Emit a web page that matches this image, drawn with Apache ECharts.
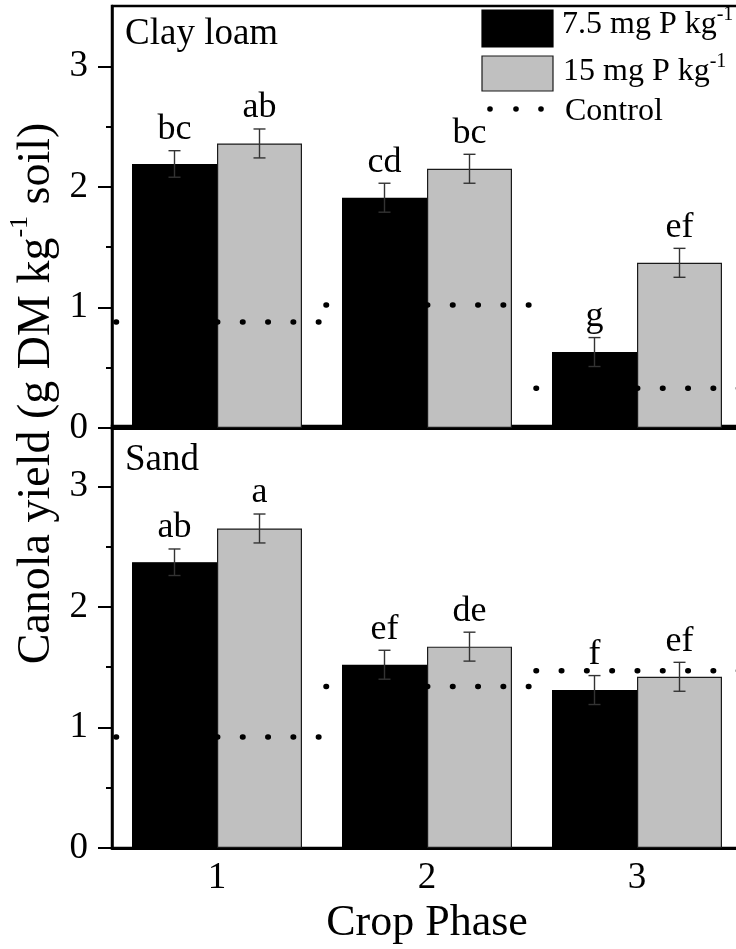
<!DOCTYPE html>
<html>
<head>
<meta charset="utf-8">
<script src="https://cdn.jsdelivr.net/npm/echarts@6/dist/echarts.min.js"></script>
<style>
  html, body { margin: 0; padding: 0; background: #fff; overflow: hidden; }
  /* the plotting frame runs a little past the right edge of the page */
  #chart { width: 760px; height: 949px; }
</style>
</head>
<body>
<div id="chart"></div>
<script>
// Crop phases on the shared x axis
const categories = ['1', '2', '3'];

// Clay loam: canola yield (g DM per kg soil)
const clay75 = [2.19, 1.91, 0.63];
const clay15 = [2.36, 2.15, 1.37];
const clayErr75 = [0.11, 0.12, 0.12];
const clayErr15 = [0.12, 0.12, 0.12];
const clayLetters75 = ['bc', 'cd', 'g'];
const clayLetters15 = ['ab', 'bc', 'ef'];
const clayControl = [0.88, 1.02, 0.33];

// Sand
const sand75 = [2.37, 1.52, 1.31];
const sand15 = [2.65, 1.67, 1.42];
const sandErr75 = [0.11, 0.12, 0.12];
const sandErr15 = [0.12, 0.12, 0.12];
const sandLetters75 = ['ab', 'ef', 'f'];
const sandLetters15 = ['a', 'de', 'ef'];
const sandControl = [0.92, 1.34, 1.47];

// y axis ticks
const yMajorTicks = [0, 1, 2, 3];
const yMinorTicks = [0.5, 1.5, 2.5];

const FONT = '"Liberation Serif", "Times New Roman", serif';
const BAR_W = 85;
const ERR_COLOR = '#333';

const chart = echarts.init(document.getElementById('chart'), null, { renderer: 'canvas' });

function mainYAxis(gridIndex) {
  return {
    type: 'value', gridIndex, position: 'left', min: 0, max: 3.5, interval: 1,
    axisLine: { show: true, lineStyle: { color: '#000', width: 2.5 } },
    axisTick: { show: true, inside: false, length: 14, lineStyle: { color: '#000', width: 2 }, customValues: yMajorTicks },
    axisLabel: { show: true, margin: 24, color: '#000', fontFamily: FONT, fontSize: 37, customValues: yMajorTicks },
    splitLine: { show: false }
  };
}
function minorYAxis(gridIndex) {
  return {
    type: 'value', gridIndex, position: 'left', offset: 0, min: 0, max: 3.5, interval: 0.5,
    axisLine: { show: false },
    axisTick: { show: true, inside: false, length: 6, lineStyle: { color: '#000', width: 2 }, customValues: yMinorTicks },
    axisLabel: { show: false },
    splitLine: { show: false }
  };
}

function barSeries(gridIndex, values, fill, border) {
  return {
    type: 'bar', xAxisIndex: gridIndex, yAxisIndex: gridIndex * 2,
    data: values, barWidth: BAR_W, barGap: '0%', z: 2,
    itemStyle: { color: fill, borderColor: border, borderWidth: 1.2 },
    emphasis: { disabled: true }
  };
}

// error bars plus significance letters, offset to the matching bar
function errorSeries(gridIndex, means, errs, letters, side) {
  return {
    type: 'custom', xAxisIndex: gridIndex, yAxisIndex: gridIndex * 2, z: 6,
    data: means.map((m, i) => [i, m, errs[i]]),
    renderItem(params, api) {
      const i = api.value(0), m = api.value(1), e = api.value(2);
      const top = api.coord([i, m + e]);
      const bot = api.coord([i, m - e]);
      const x = top[0] + side * BAR_W / 2;
      const st = { stroke: ERR_COLOR, lineWidth: 1.4 };
      return {
        type: 'group',
        children: [
          { type: 'line', shape: { x1: x, y1: top[1], x2: x, y2: bot[1] }, style: st },
          { type: 'line', shape: { x1: x - 6, y1: top[1], x2: x + 6, y2: top[1] }, style: st },
          { type: 'line', shape: { x1: x - 6, y1: bot[1], x2: x + 6, y2: bot[1] }, style: st },
          { type: 'text', x: x, y: top[1] - 3,
            style: { text: letters[params.dataIndex], font: '36px ' + FONT, fill: '#000', align: 'center', verticalAlign: 'bottom' } }
        ]
      };
    }
  };
}

// dotted control level across each crop-phase band
function controlSeries(gridIndex, values) {
  return {
    type: 'custom', xAxisIndex: gridIndex, yAxisIndex: gridIndex * 2, z: 5,
    data: values.map((v, i) => [i, v]),
    renderItem(params, api) {
      const c = api.coord([api.value(0), api.value(1)]);
      const bw = api.size([1, 0])[0];
      return {
        type: 'line',
        shape: { x1: c[0] - bw / 2 + 4, y1: c[1], x2: c[0] + bw / 2, y2: c[1] },
        style: { stroke: '#000', lineWidth: 5.5, lineDash: [0.5, 24.8], lineCap: 'round' }
      };
    }
  };
}

const supRich = (size, lh, supSize, supLh) => ({
  m: { fontFamily: FONT, fontSize: size, lineHeight: lh, fill: '#000', color: '#000' },
  s: { fontFamily: FONT, fontSize: supSize, lineHeight: supLh, verticalAlign: 'top', fill: '#000', color: '#000' }
});

const option = {
  backgroundColor: '#fff',
  animation: false,
  grid: [
    { left: 112, top: 6, width: 630, height: 422, show: true, borderColor: '#000', borderWidth: 2.5, backgroundColor: 'transparent' },
    { left: 112, top: 426, width: 630, height: 422, show: true, borderColor: '#000', borderWidth: 2.5, backgroundColor: 'transparent' }
  ],
  xAxis: [
    { type: 'category', gridIndex: 0, data: categories,
      axisLine: { lineStyle: { color: '#000', width: 3 } },
      axisTick: { show: false }, axisLabel: { show: false } },
    { type: 'category', gridIndex: 1, data: categories,
      axisLine: { lineStyle: { color: '#000', width: 3 } },
      axisTick: { show: false },
      axisLabel: { color: '#000', fontFamily: FONT, fontSize: 37, margin: 12 },
      name: 'Crop Phase', nameLocation: 'middle', nameGap: 53,
      nameTextStyle: { color: '#000', fontFamily: FONT, fontSize: 44 } }
  ],
  yAxis: [mainYAxis(0), minorYAxis(0), mainYAxis(1), minorYAxis(1)],
  series: [
    barSeries(0, clay75, '#000', '#000'),
    barSeries(0, clay15, '#c0c0c0', '#1a1a1a'),
    controlSeries(0, clayControl),
    errorSeries(0, clay75, clayErr75, clayLetters75, -1),
    errorSeries(0, clay15, clayErr15, clayLetters15, 1),
    barSeries(1, sand75, '#000', '#000'),
    barSeries(1, sand15, '#c0c0c0', '#1a1a1a'),
    controlSeries(1, sandControl),
    errorSeries(1, sand75, sandErr75, sandLetters75, -1),
    errorSeries(1, sand15, sandErr15, sandLetters15, 1)
  ],
  graphic: [
    // panel names
    { type: 'text', left: 125, top: 16, z: 10,
      style: { text: 'Clay loam', font: '37px ' + FONT, fill: '#000' } },
    { type: 'text', left: 125, top: 442, z: 10,
      style: { text: 'Sand', font: '37px ' + FONT, fill: '#000' } },
    // y axis title
    { type: 'text', x: 36.5, y: 393.5, rotation: Math.PI / 2, z: 10,
      style: { text: '{m|Canola yield (g DM kg}{s|-1}{m| soil)}', align: 'center', verticalAlign: 'middle',
               rich: supRich(46, 58, 26, 26) } },
    // key
    { type: 'rect', shape: { x: 482, y: 10, width: 71, height: 37 }, z: 10,
      style: { fill: '#000', stroke: '#000', lineWidth: 1.2 } },
    { type: 'rect', shape: { x: 482, y: 56, width: 71, height: 35 }, z: 10,
      style: { fill: '#c0c0c0', stroke: '#1a1a1a', lineWidth: 1.2 } },
    { type: 'circle', shape: { cx: 490, cy: 109, r: 2.8 }, z: 10, style: { fill: '#000' } },
    { type: 'circle', shape: { cx: 516, cy: 109, r: 2.8 }, z: 10, style: { fill: '#000' } },
    { type: 'circle', shape: { cx: 541, cy: 109, r: 2.8 }, z: 10, style: { fill: '#000' } },
    { type: 'text', x: 562, y: 24.5, z: 10,
      style: { text: '{m|7.5 mg P kg}{s|-1}', align: 'left', verticalAlign: 'middle', rich: supRich(32, 40, 20, 25) } },
    { type: 'text', x: 563, y: 71.5, z: 10,
      style: { text: '{m|15 mg P kg}{s|-1}', align: 'left', verticalAlign: 'middle', rich: supRich(32, 40, 20, 25) } },
    { type: 'text', x: 565, y: 111.5, z: 10,
      style: { text: 'Control', font: '32px ' + FONT, fill: '#000', align: 'left', verticalAlign: 'middle' } }
  ]
};

chart.setOption(option);
</script>
</body>
</html>
